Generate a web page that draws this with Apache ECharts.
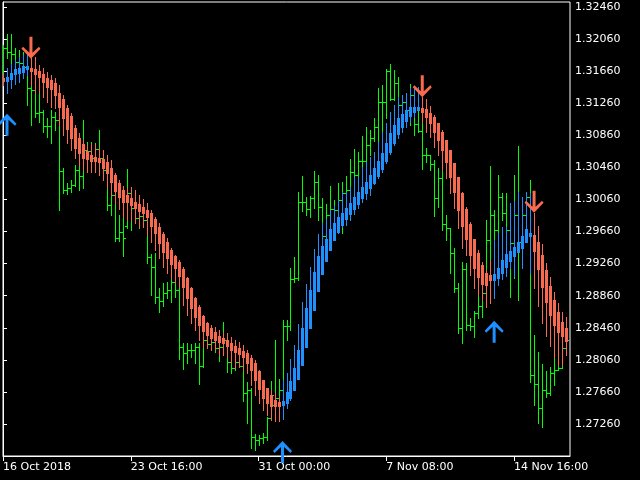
<!DOCTYPE html>
<html><head><meta charset="utf-8">
<script src="https://cdn.jsdelivr.net/npm/echarts@6/dist/echarts.min.js"></script>
<style>html,body{margin:0;padding:0;background:#000}#c{width:640px;height:480px}</style>
</head><body><div id="c"></div>
<script>
// time axis: bar index of each labelled tick and its label
const tickIndex = [0, 32, 64, 96, 128];
const tickLabels = ['16 Oct 2018', '23 Oct 16:00', '31 Oct 00:00', '7 Nov 08:00', '14 Nov 16:00'];
const priceTicks = [1.27260, 1.27660, 1.28060, 1.28460, 1.28860, 1.29260, 1.29660, 1.30060, 1.30460, 1.30860, 1.31260, 1.31660, 1.32060, 1.32460];

// price bars (OHLC, green)
const barOpen = [1.3161,1.3195,1.3190,1.3187,1.3177,1.3176,1.3171,1.3145,1.3142,1.3114,
1.3115,1.3098,1.3098,1.3109,1.3105,1.3041,1.3018,1.3020,1.3024,1.3043,
1.3035,1.3068,1.3066,1.3058,1.3069,1.3058,1.3043,1.2999,1.3012,1.2958,
1.2965,1.2973,1.3014,1.2995,1.2983,1.2985,1.2980,1.2934,1.2922,1.2884,
1.2879,1.2889,1.2893,1.2903,1.2893,1.2822,1.2814,1.2818,1.2818,1.2822,
1.2798,1.2831,1.2826,1.2828,1.2821,1.2822,1.2831,1.2803,1.2796,1.2803,
1.2798,1.2765,1.2768,1.2710,1.2706,1.2709,1.2710,1.2733,1.2750,1.2758,
1.2768,1.2848,1.2848,1.2907,1.2908,1.3003,1.3003,1.2994,1.3008,1.3028,
1.2997,1.2960,1.2987,1.2994,1.2993,1.3005,1.3014,1.3018,1.3040,1.3036,
1.3054,1.3054,1.3074,1.3083,1.3096,1.3128,1.3128,1.3166,1.3131,1.3151,
1.3124,1.3128,1.3117,1.3136,1.3100,1.3091,1.3061,1.3061,1.3050,1.3008,
1.3033,1.2975,1.2970,1.2939,1.2896,1.2846,1.2919,1.2849,1.2848,1.2864,
1.2873,1.2889,1.2955,1.2987,1.2968,1.3009,1.2989,1.2968,1.2952,1.2987,
1.2953,1.2987,1.3009,1.2787,1.2776,1.2746,1.2768,1.2765,1.2790,1.2793,
1.2796,1.2821];
const barHigh = [1.3199,1.3212,1.3212,1.3195,1.3192,1.3190,1.3180,1.3152,1.3150,1.3140,
1.3117,1.3108,1.3117,1.3115,1.3108,1.3045,1.3026,1.3030,1.3049,1.3049,
1.3105,1.3078,1.3078,1.3076,1.3093,1.3068,1.3049,1.3030,1.3018,1.2987,
1.2989,1.3044,1.3018,1.2999,1.2990,1.2995,1.2987,1.2938,1.2939,1.2896,
1.2902,1.2903,1.2908,1.2908,1.2896,1.2827,1.2827,1.2826,1.2827,1.2827,
1.2834,1.2838,1.2836,1.2837,1.2827,1.2853,1.2831,1.2818,1.2816,1.2811,
1.2806,1.2778,1.2771,1.2714,1.2712,1.2715,1.2735,1.2780,1.2831,1.2782,
1.2856,1.2856,1.2920,1.2934,1.3015,1.3035,1.3009,1.3010,1.3041,1.3036,
1.3008,1.3000,1.3023,1.3005,1.3026,1.3028,1.3035,1.3056,1.3069,1.3065,
1.3085,1.3096,1.3093,1.3108,1.3145,1.3149,1.3169,1.3175,1.3167,1.3159,
1.3136,1.3135,1.3150,1.3136,1.3124,1.3105,1.3070,1.3061,1.3055,1.3045,
1.3045,1.2987,1.2970,1.2945,1.2902,1.2928,1.2927,1.2858,1.2867,1.2909,
1.2928,1.2980,1.3048,1.2993,1.3036,1.3014,1.3014,1.2970,1.3036,1.3073,
1.3003,1.3012,1.3030,1.2837,1.2816,1.2801,1.2792,1.2797,1.2812,1.2810,
1.2831,1.2833];
const barLow = [1.3155,1.3182,1.3165,1.3172,1.3157,1.3160,1.3124,1.3099,1.3109,1.3103,
1.3090,1.3084,1.3076,1.3093,1.2993,1.3014,1.3013,1.3015,1.3023,1.3018,
1.3020,1.3040,1.3043,1.3040,1.3055,1.3033,1.2993,1.2987,1.2954,1.2954,
1.2935,1.2970,1.2968,1.2979,1.2970,1.2978,1.2927,1.2887,1.2877,1.2866,
1.2873,1.2883,1.2878,1.2884,1.2807,1.2795,1.2802,1.2810,1.2802,1.2776,
1.2797,1.2821,1.2818,1.2816,1.2804,1.2821,1.2791,1.2790,1.2793,1.2797,
1.2755,1.2727,1.2696,1.2693,1.2700,1.2702,1.2706,1.2733,1.2747,1.2756,
1.2766,1.2831,1.2843,1.2903,1.2905,1.2992,1.2987,1.2984,1.2995,1.2980,
1.2959,1.2955,1.2985,1.2968,1.2965,1.2964,1.2974,1.3015,1.3018,1.3035,
1.3046,1.3051,1.3061,1.3079,1.3079,1.3090,1.3108,1.3130,1.3130,1.3124,
1.3103,1.3115,1.3099,1.3086,1.3090,1.3044,1.3053,1.3043,1.2985,1.2997,
1.2968,1.2955,1.2914,1.2891,1.2839,1.2827,1.2843,1.2843,1.2834,1.2858,
1.2859,1.2872,1.2891,1.2955,1.2902,1.2980,1.2968,1.2884,1.2908,1.2881,
1.2949,1.2987,1.2778,1.2750,1.2727,1.2722,1.2760,1.2762,1.2775,1.2793,
1.2796,1.2820];
const barClose = [1.3195,1.3190,1.3187,1.3177,1.3176,1.3171,1.3145,1.3142,1.3114,1.3115,
1.3098,1.3098,1.3109,1.3105,1.3041,1.3018,1.3020,1.3024,1.3043,1.3035,
1.3068,1.3066,1.3058,1.3069,1.3058,1.3043,1.2999,1.3012,1.2958,1.2965,
1.2958,1.3014,1.2995,1.2983,1.2985,1.2980,1.2934,1.2922,1.2884,1.2879,
1.2889,1.2893,1.2903,1.2893,1.2822,1.2814,1.2818,1.2818,1.2822,1.2798,
1.2831,1.2826,1.2828,1.2821,1.2822,1.2831,1.2803,1.2796,1.2803,1.2798,
1.2765,1.2768,1.2710,1.2706,1.2709,1.2710,1.2733,1.2762,1.2758,1.2768,
1.2848,1.2848,1.2907,1.2908,1.3003,1.3003,1.2994,1.3008,1.3028,1.2997,
1.2960,1.2987,1.2994,1.2993,1.3005,1.3014,1.3018,1.3040,1.3036,1.3054,
1.3054,1.3074,1.3083,1.3096,1.3128,1.3128,1.3166,1.3131,1.3151,1.3124,
1.3128,1.3117,1.3136,1.3100,1.3091,1.3061,1.3061,1.3050,1.3008,1.3033,
1.2975,1.2970,1.2939,1.2896,1.2846,1.2919,1.2849,1.2848,1.2864,1.2873,
1.2889,1.2955,1.2987,1.2968,1.3009,1.2989,1.2968,1.2952,1.2987,1.2953,
1.2987,1.3009,1.2787,1.2776,1.2746,1.2768,1.2765,1.2790,1.2793,1.2796,
1.2821,1.2831];

// smoothed candles (blue up / salmon down)
const haOpen = [1.3157,1.3154,1.3156,1.3162,1.3164,1.3165,1.3169,1.3170,1.3169,1.3166,
1.3162,1.3157,1.3155,1.3151,1.3139,1.3131,1.3120,1.3110,1.3095,1.3083,
1.3075,1.3066,1.3061,1.3059,1.3058,1.3056,1.3053,1.3045,1.3036,1.3026,
1.3018,1.3012,1.3008,1.3003,1.3000,1.2997,1.2993,1.2989,1.2982,1.2972,
1.2963,1.2953,1.2943,1.2935,1.2928,1.2919,1.2908,1.2896,1.2883,1.2872,
1.2861,1.2852,1.2846,1.2841,1.2836,1.2833,1.2831,1.2827,1.2823,1.2821,
1.2817,1.2814,1.2808,1.2802,1.2792,1.2781,1.2771,1.2762,1.2756,1.2753,
1.2750,1.2752,1.2758,1.2768,1.2782,1.2800,1.2822,1.2846,1.2868,1.2892,
1.2913,1.2929,1.2943,1.2955,1.2965,1.2974,1.2982,1.2988,1.2994,1.3000,
1.3008,1.3014,1.3020,1.3026,1.3035,1.3044,1.3054,1.3065,1.3076,1.3088,
1.3096,1.3104,1.3110,1.3115,1.3117,1.3120,1.3119,1.3114,1.3109,1.3101,
1.3090,1.3080,1.3068,1.3051,1.3034,1.3014,1.2994,1.2975,1.2957,1.2939,
1.2924,1.2914,1.2912,1.2905,1.2908,1.2914,1.2922,1.2929,1.2935,1.2940,
1.2945,1.2953,1.2960,1.2962,1.2953,1.2937,1.2918,1.2898,1.2881,1.2866,
1.2853,1.2846];
const haHigh = [1.3162,1.3170,1.3175,1.3180,1.3184,1.3186,1.3187,1.3182,1.3184,1.3174,
1.3170,1.3165,1.3161,1.3157,1.3149,1.3136,1.3124,1.3114,1.3099,1.3089,
1.3080,1.3074,1.3075,1.3075,1.3071,1.3068,1.3061,1.3055,1.3039,1.3030,
1.3023,1.3020,1.3021,1.3018,1.3012,1.3006,1.3002,1.2993,1.2984,1.2977,
1.2965,1.2958,1.2945,1.2937,1.2930,1.2922,1.2909,1.2897,1.2884,1.2874,
1.2862,1.2853,1.2849,1.2847,1.2843,1.2839,1.2839,1.2834,1.2831,1.2828,
1.2824,1.2818,1.2812,1.2806,1.2793,1.2781,1.2771,1.2768,1.2765,1.2760,
1.2781,1.2790,1.2807,1.2824,1.2851,1.2878,1.2901,1.2922,1.2944,1.2963,
1.2977,1.2982,1.2993,1.2998,1.3005,1.3015,1.3015,1.3021,1.3034,1.3034,
1.3046,1.3053,1.3059,1.3065,1.3078,1.3090,1.3101,1.3115,1.3124,1.3134,
1.3136,1.3139,1.3145,1.3145,1.3146,1.3134,1.3131,1.3122,1.3111,1.3101,
1.3093,1.3080,1.3068,1.3051,1.3034,1.3015,1.2997,1.2978,1.2957,1.2943,
1.2928,1.2918,1.2930,1.2955,1.2964,1.2972,1.2972,1.3002,1.3004,1.3015,
1.3009,1.3015,1.3014,1.2989,1.2973,1.2950,1.2927,1.2909,1.2891,1.2877,
1.2866,1.2859];
const haLow = [1.3149,1.3139,1.3145,1.3150,1.3152,1.3157,1.3161,1.3149,1.3139,1.3140,
1.3134,1.3128,1.3121,1.3120,1.3099,1.3086,1.3076,1.3068,1.3058,1.3049,
1.3043,1.3040,1.3040,1.3040,1.3036,1.3030,1.3020,1.3011,1.3002,1.2994,
1.2984,1.2980,1.2980,1.2977,1.2972,1.2972,1.2962,1.2953,1.2943,1.2933,
1.2922,1.2914,1.2908,1.2902,1.2897,1.2874,1.2862,1.2852,1.2843,1.2831,
1.2822,1.2821,1.2818,1.2818,1.2812,1.2812,1.2810,1.2802,1.2796,1.2797,
1.2793,1.2790,1.2775,1.2762,1.2752,1.2743,1.2737,1.2731,1.2730,1.2730,
1.2732,1.2746,1.2756,1.2768,1.2782,1.2800,1.2822,1.2846,1.2868,1.2892,
1.2913,1.2929,1.2943,1.2955,1.2964,1.2972,1.2974,1.2980,1.2988,1.2995,
1.3003,1.3006,1.3012,1.3025,1.3033,1.3040,1.3051,1.3063,1.3074,1.3083,
1.3090,1.3096,1.3103,1.3109,1.3117,1.3103,1.3090,1.3084,1.3071,1.3061,
1.3043,1.3033,1.3014,1.2995,1.2970,1.2945,1.2937,1.2912,1.2896,1.2887,
1.2881,1.2872,1.2877,1.2883,1.2899,1.2907,1.2910,1.2920,1.2910,1.2940,
1.2920,1.2953,1.2914,1.2896,1.2873,1.2852,1.2836,1.2823,1.2810,1.2800,
1.2800,1.2812];
const haClose = [1.3154,1.3159,1.3164,1.3169,1.3170,1.3172,1.3172,1.3166,1.3162,1.3159,
1.3152,1.3146,1.3144,1.3136,1.3121,1.3108,1.3094,1.3083,1.3070,1.3064,
1.3058,1.3056,1.3054,1.3054,1.3053,1.3045,1.3039,1.3028,1.3016,1.3009,
1.3003,1.3003,1.2999,1.2995,1.2992,1.2989,1.2984,1.2973,1.2964,1.2952,
1.2940,1.2933,1.2925,1.2920,1.2910,1.2897,1.2883,1.2871,1.2859,1.2849,
1.2842,1.2837,1.2833,1.2831,1.2828,1.2827,1.2823,1.2818,1.2816,1.2813,
1.2810,1.2802,1.2793,1.2781,1.2770,1.2758,1.2752,1.2748,1.2748,1.2748,
1.2755,1.2766,1.2780,1.2796,1.2818,1.2846,1.2871,1.2893,1.2915,1.2935,
1.2948,1.2957,1.2969,1.2977,1.2984,1.2989,1.2995,1.3002,1.3009,1.3015,
1.3021,1.3028,1.3036,1.3045,1.3054,1.3064,1.3076,1.3089,1.3099,1.3108,
1.3112,1.3117,1.3121,1.3121,1.3121,1.3115,1.3109,1.3101,1.3090,1.3080,
1.3068,1.3053,1.3034,1.3015,1.2993,1.2973,1.2957,1.2937,1.2920,1.2909,
1.2901,1.2899,1.2905,1.2913,1.2920,1.2930,1.2938,1.2942,1.2947,1.2953,
1.2960,1.2969,1.2964,1.2942,1.2919,1.2897,1.2878,1.2862,1.2849,1.2841,
1.2836,1.2830];

// signal arrows: [bar index, price]
const buySignals = [[1, 1.3099], [70, 1.2691], [123, 1.2841]];
const sellSignals = [[7, 1.3195], [105, 1.3147], [133, 1.3003]];

const UP_COLOR = '#1e90ff', DOWN_COLOR = '#fa6a4f', BAR_COLOR = '#00ff00';
const FONT = 'DejaVu Sans';

const chart = echarts.init(document.getElementById('c'), null, {renderer: 'canvas', width: 640, height: 480});
const greenData = barOpen.map((o, i) => [i, o, barHigh[i], barLow[i], barClose[i]]);
const haData = haOpen.map((o, i) => [i, o, haHigh[i], haLow[i], haClose[i]]);

function renderBar(params, api) {
  const i = api.value(0);
  const pO = api.coord([i, api.value(1)]);
  const pH = api.coord([i, api.value(2)]);
  const pL = api.coord([i, api.value(3)]);
  const pC = api.coord([i, api.value(4)]);
  const x = Math.round(pH[0]);
  const yH = Math.round(pH[1]), yL = Math.round(pL[1]);
  const yO = Math.round(pO[1]), yC = Math.round(pC[1]);
  const style = {fill: BAR_COLOR};
  return {type: 'group', children: [
    {type: 'rect', shape: {x: x, y: yH, width: 1, height: Math.max(1, yL - yH + 1)}, style: style},
    {type: 'rect', shape: {x: x - 2, y: yO, width: 2, height: 1}, style: style},
    {type: 'rect', shape: {x: x + 1, y: yC, width: 2, height: 1}, style: style}
  ]};
}
function renderHA(params, api) {
  const i = api.value(0);
  const o = api.value(1), h = api.value(2), l = api.value(3), c = api.value(4);
  const color = c >= o ? UP_COLOR : DOWN_COLOR;
  const pO = api.coord([i, o]), pC = api.coord([i, c]), pH = api.coord([i, h]), pL = api.coord([i, l]);
  const x = Math.round(pH[0]);
  const yH = Math.round(pH[1]), yL = Math.round(pL[1]);
  const yT = Math.round(Math.min(pO[1], pC[1])), yB = Math.round(Math.max(pO[1], pC[1]));
  return {type: 'group', children: [
    {type: 'rect', shape: {x: x, y: yH, width: 1, height: Math.max(1, yL - yH + 1)}, style: {fill: color}},
    {type: 'rect', shape: {x: x - 1, y: yT, width: 3, height: Math.max(2, yB - yT + 1)}, style: {fill: color}}
  ]};
}

const downPath = 'path://M8,0 L11,0 L11,16 L17.5,10 L19,12 L9.5,22 L0,12 L1.5,10 L8,16 Z';
const upPath = 'path://M8,22 L11,22 L11,6 L17.5,12 L19,10 L9.5,0 L0,10 L1.5,12 L8,6 Z';

chart.setOption({
  animation: false,
  backgroundColor: '#000',
  grid: {left: 2, top: 2, right: 70, bottom: 24, show: true, borderColor: '#fff', borderWidth: 1, backgroundColor: '#000'},
  xAxis: {
    type: 'value', min: 0, max: 142,
    axisLine: {show: true, lineStyle: {color: '#fff', width: 1}},
    axisTick: {show: true, customValues: tickIndex, length: 5, lineStyle: {color: '#fff'}},
    axisLabel: {customValues: tickIndex, formatter: v => tickLabels[tickIndex.indexOf(v)] || '',
      color: '#fff', fontFamily: FONT, fontSize: 11, align: 'left', margin: 6},
    splitLine: {show: false}
  },
  yAxis: {
    type: 'value', position: 'right', min: 1.26861, max: 1.32522, scale: true,
    axisLine: {show: true, lineStyle: {color: '#fff', width: 1}},
    axisTick: {show: true, customValues: priceTicks, length: 4, lineStyle: {color: '#fff'}},
    axisLabel: {customValues: priceTicks, formatter: v => v.toFixed(5),
      color: '#fff', fontFamily: FONT, fontSize: 11, margin: 5},
    splitLine: {show: false}
  },
  series: [
    {type: 'custom', name: 'price', renderItem: renderBar, data: greenData, clip: true,
      encode: {x: 0, y: [1, 2, 3, 4]}, silent: true},
    {type: 'custom', name: 'smoothed', renderItem: renderHA, data: haData, clip: true,
      encode: {x: 0, y: [1, 2, 3, 4]}, silent: true},
    {type: 'scatter', name: 'buy', data: buySignals, symbol: upPath, symbolSize: [19, 22],
      itemStyle: {color: UP_COLOR, opacity: 1}, clip: true, silent: true},
    {type: 'scatter', name: 'sell', data: sellSignals, symbol: downPath, symbolSize: [19, 22],
      itemStyle: {color: DOWN_COLOR, opacity: 1}, clip: true, silent: true}
  ]
});
</script>
</body></html>
